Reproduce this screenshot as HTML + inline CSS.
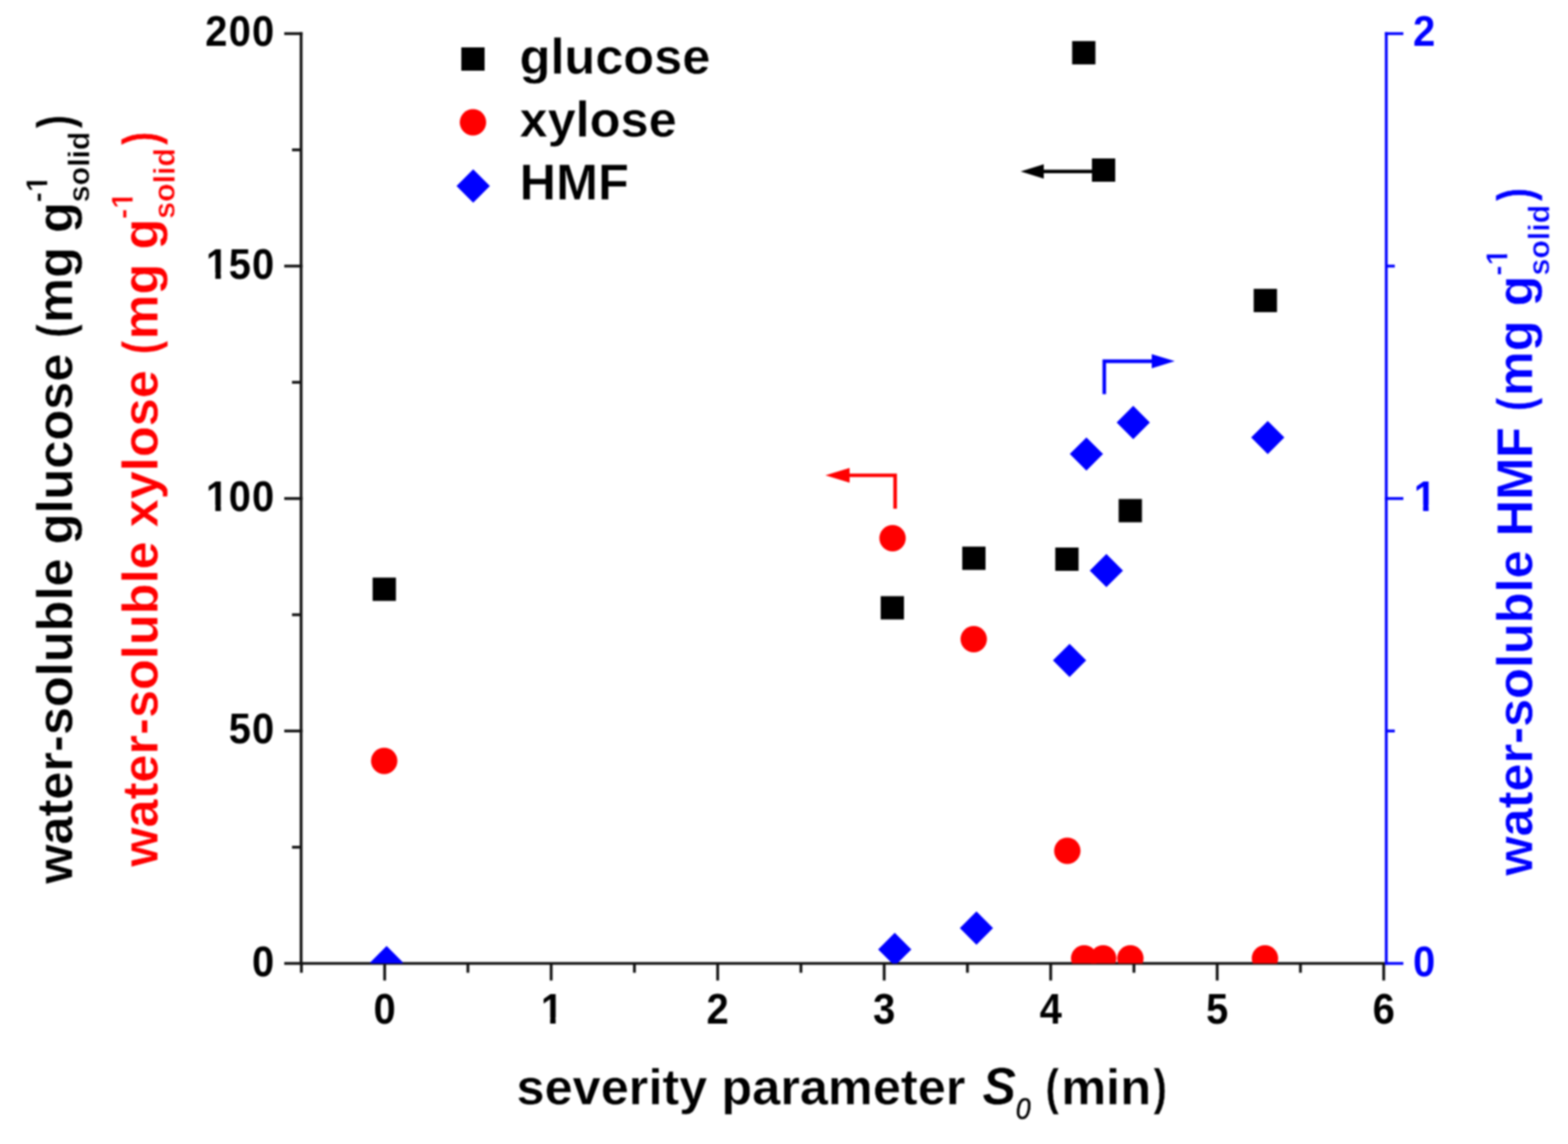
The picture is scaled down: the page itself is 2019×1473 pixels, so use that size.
<!DOCTYPE html>
<html><head><meta charset="utf-8"><title>water-soluble sugars vs severity</title>
<style>html,body{margin:0;padding:0;background:#fff;}body{width:2019px;height:1473px;overflow:hidden;}svg{display:block;filter:blur(0.9px);}</style>
</head><body>
<svg width="2019" height="1473" viewBox="0 0 2019 1473">
<defs><clipPath id="one1" clipPathUnits="userSpaceOnUse"><path clip-rule="evenodd" d="M-3000 -3000H6000V6000H-3000ZM-12.81 -7.51H-2.41V2.00H-12.81ZM5.00 -7.51H14.71V2.00H5.00Z"/></clipPath><clipPath id="one2" clipPathUnits="userSpaceOnUse"><path clip-rule="evenodd" d="M-3000 -3000H6000V6000H-3000ZM-12.81 -7.51H-2.41V2.00H-12.81ZM5.00 -7.51H14.71V2.00H5.00Z"/></clipPath><clipPath id="one3" clipPathUnits="userSpaceOnUse"><path clip-rule="evenodd" d="M-3000 -3000H6000V6000H-3000ZM-12.81 -7.51H-2.41V2.00H-12.81ZM5.00 -7.51H14.71V2.00H5.00Z"/></clipPath><clipPath id="one4" clipPathUnits="userSpaceOnUse"><path clip-rule="evenodd" d="M-3000 -3000H6000V6000H-3000ZM-12.81 -7.51H-2.41V2.00H-12.81ZM5.00 -7.51H14.71V2.00H5.00Z"/></clipPath><clipPath id="one5" clipPathUnits="userSpaceOnUse"><path clip-rule="evenodd" d="M-3000 -3000H6000V6000H-3000ZM891.88 -37.98H899.98V-30.00H891.88ZM904.83 -37.98H912.43V-30.00H904.83Z"/></clipPath><clipPath id="one6" clipPathUnits="userSpaceOnUse"><path clip-rule="evenodd" d="M-3000 -3000H6000V6000H-3000ZM848.62 -37.98H856.71V-30.00H848.62ZM861.57 -37.98H869.17V-30.00H861.57Z"/></clipPath><clipPath id="one7" clipPathUnits="userSpaceOnUse"><path clip-rule="evenodd" d="M-3000 -3000H6000V6000H-3000ZM787.04 -37.98H795.14V-30.00H787.04ZM799.99 -37.98H807.59V-30.00H799.99Z"/></clipPath><clipPath id="pa"><rect x="387.7" y="0" width="1397.3" height="1240.5"/></clipPath></defs>
<rect width="2019" height="1473" fill="#fff"/>
<g><line x1="387.70" y1="41.50" x2="387.70" y2="1242.30" stroke="#111" stroke-width="3.6" stroke-linecap="butt"/><line x1="366.00" y1="1240.50" x2="389.50" y2="1240.50" stroke="#111" stroke-width="3.6" stroke-linecap="butt"/><line x1="366.00" y1="941.20" x2="389.50" y2="941.20" stroke="#111" stroke-width="3.6" stroke-linecap="butt"/><line x1="366.00" y1="641.90" x2="389.50" y2="641.90" stroke="#111" stroke-width="3.6" stroke-linecap="butt"/><line x1="366.00" y1="342.60" x2="389.50" y2="342.60" stroke="#111" stroke-width="3.6" stroke-linecap="butt"/><line x1="366.00" y1="43.30" x2="389.50" y2="43.30" stroke="#111" stroke-width="3.6" stroke-linecap="butt"/><line x1="376.00" y1="1090.85" x2="387.70" y2="1090.85" stroke="#111" stroke-width="3.6" stroke-linecap="butt"/><line x1="376.00" y1="791.55" x2="387.70" y2="791.55" stroke="#111" stroke-width="3.6" stroke-linecap="butt"/><line x1="376.00" y1="492.25" x2="387.70" y2="492.25" stroke="#111" stroke-width="3.6" stroke-linecap="butt"/><line x1="376.00" y1="192.95" x2="387.70" y2="192.95" stroke="#111" stroke-width="3.6" stroke-linecap="butt"/><line x1="385.90" y1="1240.50" x2="1783.50" y2="1240.50" stroke="#111" stroke-width="3.6" stroke-linecap="butt"/><line x1="495.30" y1="1240.50" x2="495.30" y2="1262.50" stroke="#111" stroke-width="3.6" stroke-linecap="butt"/><line x1="709.70" y1="1240.50" x2="709.70" y2="1262.50" stroke="#111" stroke-width="3.6" stroke-linecap="butt"/><line x1="924.10" y1="1240.50" x2="924.10" y2="1262.50" stroke="#111" stroke-width="3.6" stroke-linecap="butt"/><line x1="1138.50" y1="1240.50" x2="1138.50" y2="1262.50" stroke="#111" stroke-width="3.6" stroke-linecap="butt"/><line x1="1352.90" y1="1240.50" x2="1352.90" y2="1262.50" stroke="#111" stroke-width="3.6" stroke-linecap="butt"/><line x1="1567.30" y1="1240.50" x2="1567.30" y2="1262.50" stroke="#111" stroke-width="3.6" stroke-linecap="butt"/><line x1="1781.70" y1="1240.50" x2="1781.70" y2="1262.50" stroke="#111" stroke-width="3.6" stroke-linecap="butt"/><line x1="388.10" y1="1240.50" x2="388.10" y2="1252.50" stroke="#111" stroke-width="3.6" stroke-linecap="butt"/><line x1="602.50" y1="1240.50" x2="602.50" y2="1252.50" stroke="#111" stroke-width="3.6" stroke-linecap="butt"/><line x1="816.90" y1="1240.50" x2="816.90" y2="1252.50" stroke="#111" stroke-width="3.6" stroke-linecap="butt"/><line x1="1031.30" y1="1240.50" x2="1031.30" y2="1252.50" stroke="#111" stroke-width="3.6" stroke-linecap="butt"/><line x1="1245.70" y1="1240.50" x2="1245.70" y2="1252.50" stroke="#111" stroke-width="3.6" stroke-linecap="butt"/><line x1="1460.10" y1="1240.50" x2="1460.10" y2="1252.50" stroke="#111" stroke-width="3.6" stroke-linecap="butt"/><line x1="1674.50" y1="1240.50" x2="1674.50" y2="1252.50" stroke="#111" stroke-width="3.6" stroke-linecap="butt"/></g>
<g><line x1="1785.00" y1="41.50" x2="1785.00" y2="1242.30" stroke="#0000ff" stroke-width="3.6" stroke-linecap="butt"/><line x1="1783.20" y1="1240.50" x2="1807.00" y2="1240.50" stroke="#0000ff" stroke-width="3.6" stroke-linecap="butt"/><line x1="1783.20" y1="641.90" x2="1807.00" y2="641.90" stroke="#0000ff" stroke-width="3.6" stroke-linecap="butt"/><line x1="1783.20" y1="43.30" x2="1807.00" y2="43.30" stroke="#0000ff" stroke-width="3.6" stroke-linecap="butt"/><line x1="1785.00" y1="941.20" x2="1796.00" y2="941.20" stroke="#0000ff" stroke-width="3.6" stroke-linecap="butt"/><line x1="1785.00" y1="342.60" x2="1796.00" y2="342.60" stroke="#0000ff" stroke-width="3.6" stroke-linecap="butt"/></g>
<g clip-path="url(#pa)">
<rect x="479.80" y="743.70" width="30.00" height="30.00" fill="#000"/><rect x="1380.50" y="52.90" width="30.00" height="30.00" fill="#000"/><rect x="1406.00" y="204.00" width="30.00" height="30.00" fill="#000"/><rect x="1614.30" y="371.90" width="30.00" height="30.00" fill="#000"/><rect x="1440.40" y="642.50" width="30.00" height="30.00" fill="#000"/><rect x="1239.00" y="703.80" width="30.00" height="30.00" fill="#000"/><rect x="1358.80" y="705.00" width="30.00" height="30.00" fill="#000"/><rect x="1134.00" y="767.60" width="30.00" height="30.00" fill="#000"/>
<circle cx="494.70" cy="979.80" r="17.00" fill="#ff0000"/><circle cx="1149.30" cy="693.00" r="17.00" fill="#ff0000"/><circle cx="1253.80" cy="823.00" r="17.00" fill="#ff0000"/><circle cx="1374.30" cy="1095.50" r="17.00" fill="#ff0000"/><circle cx="1396.00" cy="1234.00" r="17.00" fill="#ff0000"/><circle cx="1420.50" cy="1234.00" r="17.00" fill="#ff0000"/><circle cx="1455.50" cy="1234.00" r="17.00" fill="#ff0000"/><circle cx="1628.80" cy="1234.00" r="17.00" fill="#ff0000"/>
<path d="M497.80 1218.10L519.20 1239.50L497.80 1260.90L476.40 1239.50Z" fill="#0000ff"/><path d="M1152.10 1201.00L1173.50 1222.40L1152.10 1243.80L1130.70 1222.40Z" fill="#0000ff"/><path d="M1257.30 1173.60L1278.70 1195.00L1257.30 1216.40L1235.90 1195.00Z" fill="#0000ff"/><path d="M1377.20 828.90L1398.60 850.30L1377.20 871.70L1355.80 850.30Z" fill="#0000ff"/><path d="M1398.90 563.20L1420.30 584.60L1398.90 606.00L1377.50 584.60Z" fill="#0000ff"/><path d="M1424.60 713.30L1446.00 734.70L1424.60 756.10L1403.20 734.70Z" fill="#0000ff"/><path d="M1459.20 522.60L1480.60 544.00L1459.20 565.40L1437.80 544.00Z" fill="#0000ff"/><path d="M1632.40 541.90L1653.80 563.30L1632.40 584.70L1611.00 563.30Z" fill="#0000ff"/>
</g>
<g><line x1="1406.00" y1="220.80" x2="1343.00" y2="220.80" stroke="#000" stroke-width="4.6" stroke-linecap="butt"/><path d="M1314.20 220.80L1344.00 211.50L1344.00 230.10Z" fill="#000"/><polyline points="1152.6,655 1152.6,612 1093,612" fill="none" stroke="#ff0000" stroke-width="4.6" stroke-linejoin="miter"/><path d="M1062.80 612.00L1094.00 602.50L1094.00 621.50Z" fill="#ff0000"/><polyline points="1421.9,507.5 1421.9,465.1 1484,465.1" fill="none" stroke="#0000ff" stroke-width="4.6" stroke-linejoin="miter"/><path d="M1512.70 465.10L1483.00 455.90L1483.00 474.30Z" fill="#0000ff"/></g>
<g><rect x="594.00" y="61.00" width="30.00" height="30.00" fill="#000"/><circle cx="609.00" cy="157.50" r="17.00" fill="#ff0000"/><path d="M609.30 218.10L630.80 239.60L609.30 261.10L587.80 239.60Z" fill="#0000ff"/></g>
<g font-family="'Liberation Sans', Arial, Helvetica, sans-serif" font-weight="bold" stroke="#fff" stroke-width="0.5"><text transform="translate(338.68,1256.50) scale(0.95,1.03)" x="0" y="0" font-size="54" text-anchor="middle" fill="#000" stroke-width="0">0</text><text transform="translate(308.65,957.20) scale(0.95,1.03)" x="0" y="0" font-size="54" text-anchor="middle" fill="#000" stroke-width="0">5</text><text transform="translate(338.68,957.20) scale(0.95,1.03)" x="0" y="0" font-size="54" text-anchor="middle" fill="#000" stroke-width="0">0</text><text clip-path="url(#one1)" transform="translate(279.62,657.90) scale(0.95,1.03)" x="0" y="0" font-size="54" text-anchor="middle" fill="#000" stroke-width="0">1</text><text transform="translate(308.65,657.90) scale(0.95,1.03)" x="0" y="0" font-size="54" text-anchor="middle" fill="#000" stroke-width="0">0</text><text transform="translate(338.68,657.90) scale(0.95,1.03)" x="0" y="0" font-size="54" text-anchor="middle" fill="#000" stroke-width="0">0</text><text clip-path="url(#one2)" transform="translate(279.62,358.60) scale(0.95,1.03)" x="0" y="0" font-size="54" text-anchor="middle" fill="#000" stroke-width="0">1</text><text transform="translate(308.65,358.60) scale(0.95,1.03)" x="0" y="0" font-size="54" text-anchor="middle" fill="#000" stroke-width="0">5</text><text transform="translate(338.68,358.60) scale(0.95,1.03)" x="0" y="0" font-size="54" text-anchor="middle" fill="#000" stroke-width="0">0</text><text transform="translate(278.62,59.30) scale(0.95,1.03)" x="0" y="0" font-size="54" text-anchor="middle" fill="#000" stroke-width="0">2</text><text transform="translate(308.65,59.30) scale(0.95,1.03)" x="0" y="0" font-size="54" text-anchor="middle" fill="#000" stroke-width="0">0</text><text transform="translate(338.68,59.30) scale(0.95,1.03)" x="0" y="0" font-size="54" text-anchor="middle" fill="#000" stroke-width="0">0</text><text transform="translate(495.30,1317.80) scale(0.95,1.03)" x="0" y="0" font-size="54" text-anchor="middle" fill="#000" stroke-width="0">0</text><text clip-path="url(#one3)" transform="translate(710.70,1317.80) scale(0.95,1.03)" x="0" y="0" font-size="54" text-anchor="middle" fill="#000" stroke-width="0">1</text><text transform="translate(924.10,1317.80) scale(0.95,1.03)" x="0" y="0" font-size="54" text-anchor="middle" fill="#000" stroke-width="0">2</text><text transform="translate(1138.50,1317.80) scale(0.95,1.03)" x="0" y="0" font-size="54" text-anchor="middle" fill="#000" stroke-width="0">3</text><text transform="translate(1352.90,1317.80) scale(0.95,1.03)" x="0" y="0" font-size="54" text-anchor="middle" fill="#000" stroke-width="0">4</text><text transform="translate(1567.30,1317.80) scale(0.95,1.03)" x="0" y="0" font-size="54" text-anchor="middle" fill="#000" stroke-width="0">5</text><text transform="translate(1781.70,1317.80) scale(0.95,1.03)" x="0" y="0" font-size="54" text-anchor="middle" fill="#000" stroke-width="0">6</text><text transform="translate(1833.72,1256.50) scale(0.95,1.03)" x="0" y="0" font-size="54" text-anchor="middle" fill="#0000ff" stroke-width="0">0</text><text clip-path="url(#one4)" transform="translate(1834.72,657.90) scale(0.95,1.03)" x="0" y="0" font-size="54" text-anchor="middle" fill="#0000ff" stroke-width="0">1</text><text transform="translate(1833.72,59.30) scale(0.95,1.03)" x="0" y="0" font-size="54" text-anchor="middle" fill="#0000ff" stroke-width="0">2</text><text x="669.00" y="95.00" font-size="65" fill="#000">glucose</text><text x="669.00" y="175.50" font-size="65" fill="#000">xylose</text><text x="669.00" y="257.20" font-size="65" fill="#000">HMF</text><text x="665.00" y="1421.80" font-size="65" fill="#000">severity parameter</text><text transform="translate(1265.0,1421.8) scale(1,1.05)" x="0" y="0" font-size="65" font-style="italic">S</text><text transform="translate(1317.5,1440.5) scale(0.88,1)" x="0" y="0" text-anchor="middle" font-size="39" font-style="italic" font-weight="normal" stroke="#000" stroke-width="0.6">0</text><text transform="translate(1356.11,1421.80) scale(0.8,1)" x="-12.41" y="0" font-size="65" fill="#000">(</text><text x="1366.54" y="1421.80" font-size="65" fill="#000">min</text><text transform="translate(1492.64,1421.80) scale(0.8,1)" x="-9.24" y="0" font-size="65" fill="#000">)</text><g transform="translate(93,1138) rotate(-90)" fill="#000"><text x="0" y="0" font-size="65">water-soluble glucose</text><text transform="translate(713.11,0.00) scale(0.8,1)" x="-12.41" y="0" font-size="65" fill="#000">(</text><text x="722.36" y="0" font-size="65">mg g</text><text clip-path="url(#one5)" x="877.64" y="-32" font-size="39">-1</text><text x="877.64" y="22" font-size="39">solid</text><text transform="translate(980.24,0.00) scale(0.8,1)" x="-9.24" y="0" font-size="65" fill="#000">)</text></g><g transform="translate(203,1116) rotate(-90)" fill="#ff0000"><text x="0" y="0" font-size="65">water-soluble xylose</text><text transform="translate(669.86,0.00) scale(0.8,1)" x="-12.41" y="0" font-size="65" fill="#ff0000">(</text><text x="679.09" y="0" font-size="65">mg g</text><text clip-path="url(#one6)" x="834.38" y="-32" font-size="39">-1</text><text x="834.38" y="22" font-size="39">solid</text><text transform="translate(936.74,0.00) scale(0.8,1)" x="-9.24" y="0" font-size="65" fill="#ff0000">)</text></g><g transform="translate(1973.4,1127.5) rotate(-90)" fill="#0000ff"><text x="0" y="0" font-size="65">water-soluble HMF</text><text transform="translate(608.28,0.00) scale(0.8,1)" x="-12.41" y="0" font-size="65" fill="#0000ff">(</text><text x="617.53" y="0" font-size="65">mg g</text><text clip-path="url(#one7)" x="772.80" y="-32" font-size="39">-1</text><text x="772.80" y="22" font-size="39">solid</text><text transform="translate(875.84,0.00) scale(0.8,1)" x="-9.24" y="0" font-size="65" fill="#0000ff">)</text></g></g>
</svg>
</body></html>
